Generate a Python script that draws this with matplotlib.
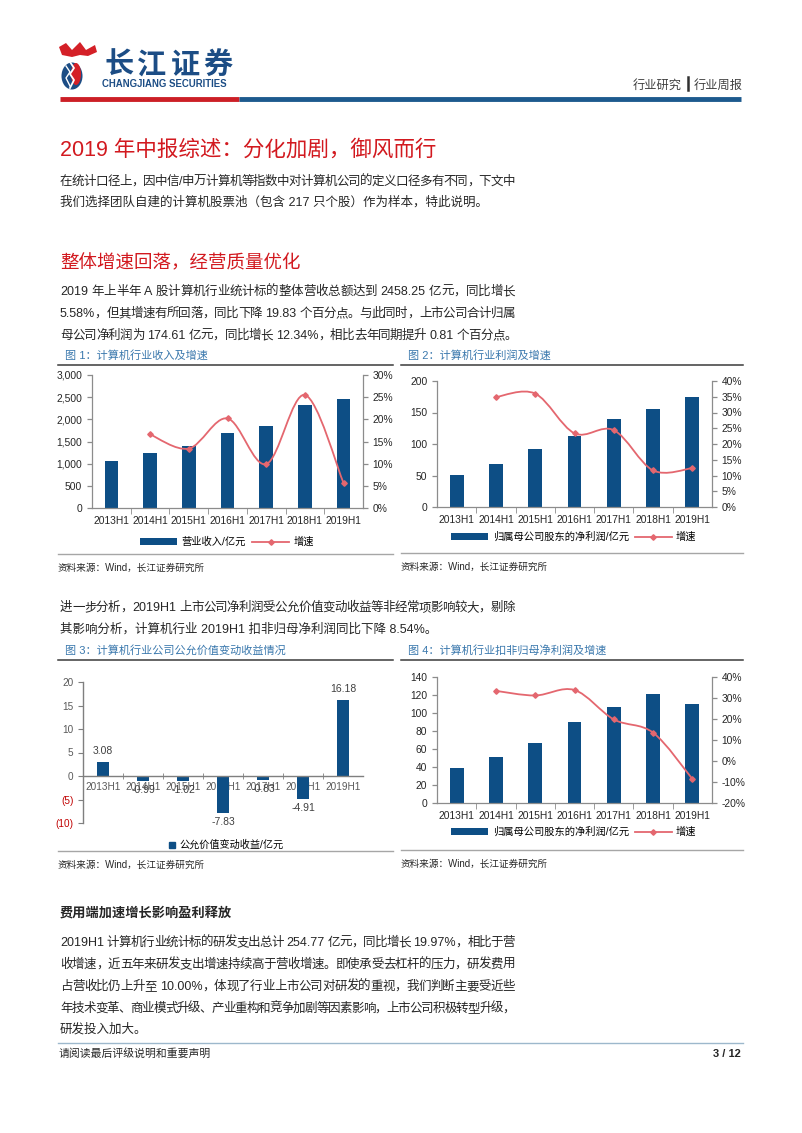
import numpy as np
import matplotlib
matplotlib.use('Agg')
import matplotlib.pyplot as plt
from matplotlib.path import Path
from matplotlib.patches import PathPatch, Patch, Ellipse, Polygon
from matplotlib.lines import Line2D
from matplotlib.ticker import FuncFormatter

plt.rcParams['font.family'] = ['Liberation Sans', 'Noto Sans CJK SC', 'DejaVu Sans']

# ---- data ----
periods = ['2013H1', '2014H1', '2015H1', '2016H1', '2017H1', '2018H1', '2019H1']

revenue = [1065, 1240, 1405, 1690, 1856, 2328, 2458.25]
revenue_growth = [None, 16.6, 13.4, 20.2, 9.9, 25.5, 5.58]

profit = [50.5, 68, 92, 113, 140, 156, 174.61]
profit_growth = [None, 34.9, 36.0, 23.4, 24.4, 11.6, 12.34]

fair_value = [3.08, -0.99, -1.02, -7.83, -0.83, -4.91, 16.18]

core_profit = [38.7, 51.2, 67, 89.5, 106.5, 120.8, 110.5]
core_growth = [None, 33.4, 31.2, 33.8, 19.8, 13.5, -8.54]

BAR = '#0d4e85'
LINE = '#e4676f'
RED = '#d2191f'
TITLE_BLUE = '#3a78ad'
TXT = '#262626'

fig = plt.figure(figsize=(8.02, 11.33), dpi=100)
bg = fig.add_axes([0, 0, 1, 1])
bg.set_xlim(0, 802)
bg.set_ylim(1133, 0)
bg.axis('off')
renderer = fig.canvas.get_renderer()


def add_ax(l, t, r, b):
    return fig.add_axes([l / 802, 1 - b / 1133, (r - l) / 802, (b - t) / 1133])


def is_cjk(ch):
    return ord(ch) > 0x2000


def line_text(x0, y, s, right=None, size=9, color=TXT, **kw):
    if right is None:
        bg.text(x0, y, s, fontsize=size, color=color, va='baseline', **kw)
        return
    # split into tokens: single CJK chars or ascii runs, then spread to the right edge
    tokens = []
    buf = ''
    for ch in s:
        if is_cjk(ch):
            if buf:
                tokens.append(buf)
                buf = ''
            tokens.append(ch)
        else:
            buf += ch
    if buf:
        tokens.append(buf)
    items = []
    for tk in tokens:
        lead = len(tk) - len(tk.lstrip(' '))
        trail = len(tk) - len(tk.rstrip(' '))
        core = tk.strip(' ')
        t = bg.text(0, y, core, fontsize=size, color=color, va='baseline', **kw) if core else None
        w = t.get_window_extent(renderer).width if t is not None else 0
        items.append((t, w, lead * 3.5, trail * 3.5))
    total = sum(w + a + b for _, w, a, b in items)
    extra = (right - x0 - total) / max(len(items) - 1, 1)
    x = x0
    for t, w, a, b in items:
        x += a
        if t is not None:
            t.set_x(x)
        x += w + b + extra


def smooth_path(xs, ys):
    pts = np.column_stack([xs, ys]).astype(float)
    verts = [pts[0]]
    codes = [Path.MOVETO]
    n = len(pts)
    for i in range(n - 1):
        p0 = pts[i - 1] if i > 0 else pts[i]
        p1, p2 = pts[i], pts[i + 1]
        p3 = pts[i + 2] if i + 2 < n else pts[i + 1]
        verts += [p1 + (p2 - p0) / 6, p2 - (p3 - p1) / 6, p2]
        codes += [Path.CURVE4] * 3
    return Path(verts, codes)


# ---- header ----
bg.add_patch(Polygon([[59, 47], [66, 43], [72, 50], [80, 42], [86, 50], [95, 45], [97, 52], [88, 56], [80, 55], [72, 57], [62, 55]],
                     closed=True, fc='#d42027', ec='none'))
bg.add_patch(Ellipse((72, 76), 21, 27, fc='#1c4d85', ec='none'))
bg.add_patch(Ellipse((76, 74), 10, 22, fc='#d42027', ec='none'))
bg.plot([70, 74, 70, 74, 70], [62, 68, 74, 80, 88], color='white', lw=1.3)
bg.plot([66, 70, 66, 70], [66, 72, 78, 86], color='white', lw=1.0)
for i, ch in enumerate('长江证券'):
    bg.text(119 + i * 33, 74, ch, fontsize=21, fontweight='bold', color='#1c4d85',
            ha='center', va='baseline', family=['Noto Sans CJK SC'])
bg.text(102, 87, 'CHANGJIANG SECURITIES', fontsize=6.9, fontweight='bold', color='#1c4d85', va='baseline')
bg.plot([60, 239], [99, 99], color='#cc1f26', lw=3.5, solid_capstyle='butt')
bg.plot([239, 741], [99, 99], color='#1d5a8e', lw=3.5, solid_capstyle='butt')
bg.text(682, 89, '行业研究', fontsize=8.8, color='#404040', ha='right', va='baseline')
bg.plot([688, 688], [77, 90], color='#303030', lw=1.8)
bg.text(694, 89, '行业周报', fontsize=8.8, color='#404040', ha='left', va='baseline')

# ---- body text ----
bg.text(60, 156, '2019 年中报综述：分化加剧，御风而行', fontsize=15.5, color=RED, va='baseline')
line_text(60, 185, '在统计口径上，因中信/申万计算机等指数中对计算机公司的定义口径多有不同，下文中', right=515)
line_text(60, 206, '我们选择团队自建的计算机股票池（包含 217 只个股）作为样本，特此说明。')

bg.text(60, 268, '整体增速回落，经营质量优化', fontsize=13.3, color=RED, va='baseline')
line_text(60, 295, '2019 年上半年 A 股计算机行业统计标的整体营收总额达到 2458.25 亿元，同比增长', right=515)
line_text(60, 317, '5.58%，但其增速有所回落，同比下降 19.83 个百分点。与此同时，上市公司合计归属', right=515)
line_text(60, 339, '母公司净利润为 174.61 亿元，同比增长 12.34%，相比去年同期提升 0.81 个百分点。', right=517)

line_text(60, 611, '进一步分析，2019H1 上市公司净利润受公允价值变动收益等非经常项影响较大，剔除', right=515)
line_text(60, 633, '其影响分析，计算机行业 2019H1 扣非归母净利润同比下降 8.54%。')

bg.text(60, 917, '费用端加速增长影响盈利释放', fontsize=9.5, fontweight='bold', color=TXT, va='baseline')
line_text(60, 946, '2019H1 计算机行业统计标的研发支出总计 254.77 亿元，同比增长 19.97%，相比于营', right=515)
line_text(60, 968, '收增速，近五年来研发支出增速持续高于营收增速。即使承受去杠杆的压力，研发费用', right=515)
line_text(60, 990, '占营收比仍上升至 10.00%，体现了行业上市公司对研发的重视，我们判断主要受近些', right=515)
line_text(60, 1012, '年技术变革、商业模式升级、产业重构和竞争加剧等因素影响，上市公司积极转型升级，', right=515)
line_text(60, 1033, '研发投入加大。')

bg.plot([58, 743], [1043, 1043], color='#9db8cc', lw=1.0)
bg.text(59, 1057, '请阅读最后评级说明和重要声明', fontsize=7.8, color=TXT, va='baseline')
bg.text(741, 1057, '3 / 12', fontsize=8, fontweight='bold', color=TXT, va='baseline', ha='right')


# ---- chart frames ----
def frame(x0, x1, y_title, y_rule, y_bottom, title):
    bg.text(x0 + 7, y_title + 4, title, fontsize=8, color=TITLE_BLUE, va='baseline')
    bg.plot([x0, x1], [y_rule, y_rule], color='#3a3a3a', lw=1.1)
    bg.plot([x0, x1], [y_bottom, y_bottom], color='#a6a6a6', lw=1.0)
    bg.text(x0, y_bottom + 17, '资料来源：Wind，长江证券研究所', fontsize=6.9, color=TXT, va='baseline')


frame(58, 393, 355, 365, 554, '图 1：计算机行业收入及增速')
frame(401, 743, 355, 365, 553, '图 2：计算机行业利润及增速')
frame(58, 393, 650, 660, 851, '图 3：计算机行业公司公允价值变动收益情况')
frame(401, 743, 650, 660, 850, '图 4：计算机行业扣非归母净利润及增速')


def style_axes(ax):
    ax.spines['top'].set_visible(False)
    for sp in ['left', 'right', 'bottom']:
        ax.spines[sp].set_color('#8c8c8c')
        ax.spines[sp].set_linewidth(0.9)
    ax.tick_params(axis='both', labelsize=7.4, colors='#8c8c8c', labelcolor=TXT, length=3.5, width=0.9)


def combo(rect, bars, growth, ylim, yticks, yfmt, rlim, rticks, bar_label, legend_xy):
    ax = add_ax(*rect)
    x = np.arange(len(periods))
    ax.bar(x, bars, width=0.35, color=BAR, zorder=2)
    ax.set_xlim(-0.5, len(periods) - 0.5)
    ax.set_ylim(*ylim)
    ax.set_yticks(yticks)
    ax.yaxis.set_major_formatter(FuncFormatter(yfmt))
    ax.set_xticks(x)
    ax.set_xticklabels(periods)
    ax.set_xticks(np.arange(0.5, len(periods) - 0.5, 1), minor=True)
    style_axes(ax)
    ax.tick_params(axis='x', which='major', length=0, pad=6)
    ax.tick_params(axis='x', which='minor', length=4, colors='#8c8c8c')
    ax.spines['right'].set_visible(False)
    ax2 = ax.twinx()
    ax2.set_ylim(*rlim)
    ax2.set_yticks(rticks)
    ax2.yaxis.set_major_formatter(FuncFormatter(lambda v, p: f'{v:.0f}%'))
    style_axes(ax2)
    ax2.spines['left'].set_visible(False)
    ax2.spines['bottom'].set_visible(False)
    gx = [i for i, g in enumerate(growth) if g is not None]
    gy = [g for g in growth if g is not None]
    ax2.add_patch(PathPatch(smooth_path(gx, gy), fc='none', ec=LINE, lw=1.3, zorder=3))
    ax2.plot(gx, gy, ls='', marker='D', ms=2.8, color=LINE, zorder=4)
    handles = [Patch(facecolor=BAR, edgecolor='none'),
               Line2D([], [], color=LINE, lw=1.3, marker='D', ms=2.8)]
    ax.legend(handles, [bar_label, '增速'], loc='center', bbox_to_anchor=legend_xy,
              bbox_transform=bg.transData, ncol=2, frameon=False, fontsize=7.4,
              handlelength=3.6, handleheight=0.6, columnspacing=0.6, handletextpad=0.4)
    return ax, ax2


combo((92, 375, 363, 508), revenue, revenue_growth, (0, 3000), range(0, 3001, 500),
      lambda v, p: f'{v:,.0f}', (0, 30), range(0, 31, 5), '营业收入/亿元', (227, 542))
combo((437, 381, 712, 507), profit, profit_growth, (0, 200), range(0, 201, 50),
      lambda v, p: f'{v:.0f}', (0, 40), range(0, 41, 5), '归属母公司股东的净利润/亿元', (574, 537))
combo((437, 677, 712, 803), core_profit, core_growth, (0, 140), range(0, 141, 20),
      lambda v, p: f'{v:.0f}', (-20, 40), range(-20, 41, 10), '归属母公司股东的净利润/亿元', (574, 832))

# ---- chart 3 ----
ax3 = add_ax(83, 682, 363, 823)
x = np.arange(len(periods))
ax3.bar(x, fair_value, width=0.32, color=BAR, zorder=2)
ax3.set_xlim(-0.5, len(periods) - 0.5)
ax3.set_ylim(-10, 20)
ax3.set_yticks(range(-10, 21, 5))
ax3.yaxis.set_major_formatter(FuncFormatter(lambda v, p: f'({abs(v):.0f})' if v < 0 else f'{v:.0f}'))
for sp in ['top', 'right']:
    ax3.spines[sp].set_visible(False)
ax3.spines['bottom'].set_position(('data', 0))
for sp in ['left', 'bottom']:
    ax3.spines[sp].set_color('#7f7f7f')
    ax3.spines[sp].set_linewidth(1.0)
ax3.tick_params(axis='y', labelsize=7.2, colors='#7f7f7f', length=3.5)
for lab, v in zip(ax3.get_yticklabels(), range(-10, 21, 5)):
    lab.set_color('#c00000' if v < 0 else '#595959')
ax3.set_xticks(x)
ax3.set_xticklabels(periods)
ax3.tick_params(axis='x', which='major', length=0, labelsize=7.2, labelcolor='#595959', pad=4)
ax3.set_xticks(np.arange(0.5, len(periods) - 0.5, 1), minor=True)
ax3.tick_params(axis='x', which='minor', length=5, direction='inout', colors='#7f7f7f')
for i, v in enumerate(fair_value):
    if v >= 0:
        ax3.text(i, v + 1.2, f'{v:.2f}', ha='center', va='bottom', fontsize=7.5, color='#404040')
    else:
        ax3.text(i, v - 0.9, f'{v:.2f}', ha='center', va='top', fontsize=7.5, color='#404040')
ax3.legend([Line2D([], [], ls='', marker='s', ms=5, color=BAR)], ['公允价值变动收益/亿元'],
           loc='center', bbox_to_anchor=(226, 845), bbox_transform=bg.transData,
           frameon=False, fontsize=7.3, handlelength=0.8, handletextpad=0.3)

fig.savefig('out.png', dpi=100)
